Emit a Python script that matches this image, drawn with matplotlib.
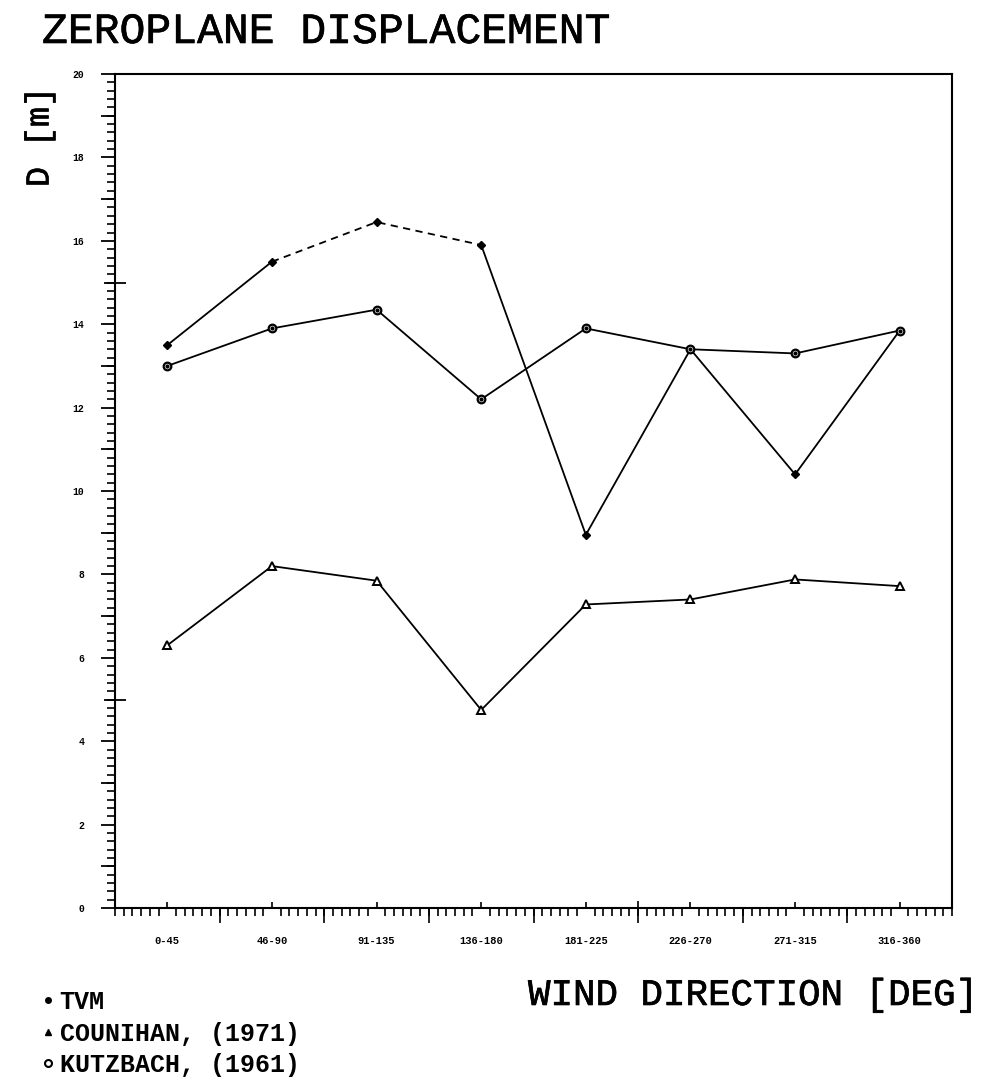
import numpy as np
import matplotlib
matplotlib.use('Agg')
import matplotlib.pyplot as plt
import matplotlib.patheffects as pe
from matplotlib.lines import Line2D
from matplotlib.ticker import MultipleLocator, FixedLocator

# wind direction sectors
sectors = ['0-45', '46-90', '91-135', '136-180', '181-225', '226-270', '271-315', '316-360']

# zeroplane displacement D [m] per sector
tvm = [13.5, 15.5, 16.45, 15.9, 8.95, 13.4, 10.4, 13.85]
counihan = [6.3, 8.2, 7.85, 4.75, 7.28, 7.4, 7.88, 7.72]
kutzbach = [13.0, 13.9, 14.35, 12.2, 13.9, 13.4, 13.3, 13.85]

mono = 'Liberation Mono'
heavy = [pe.withStroke(linewidth=0.45, foreground='black')]

x = np.arange(len(sectors))

fig = plt.figure(figsize=(9.82, 10.81), dpi=100)
ax = fig.add_axes([0.1171, 0.1600, 0.8524, 0.7715])

lw = 1.3
# TVM: solid, with the 46-90 .. 136-180 stretch dashed
ax.plot(x[:2], tvm[:2], color='black', lw=lw)
ax.plot(x[1:4], tvm[1:4], color='black', lw=lw, ls=(0, (4, 3)))
ax.plot(x[3:], tvm[3:], color='black', lw=lw)
ax.plot(x, tvm, ls='none', marker='D', ms=4, color='black')

ax.plot(x, counihan, color='black', lw=lw, marker='^', ms=5.5,
        mfc='white', mec='black', mew=1.4)

ax.plot(x, kutzbach, color='black', lw=lw, marker='o', ms=5.5,
        mfc='white', mec='black', mew=1.6)
ax.plot(x, kutzbach, ls='none', marker='o', ms=2, color='black')

ax.set_xlim(-0.5, 7.5)
ax.set_ylim(0, 20)

for s in ax.spines.values():
    s.set_linewidth(1.5)

# x ticks: sector centres inward, fine ticks outward
ax.set_xticks(x)
ax.set_xticklabels(sectors)
ax.xaxis.set_minor_locator(MultipleLocator(1 / 12))
ax.tick_params(axis='x', which='major', direction='in', length=4, width=1.2,
               pad=20, labelsize=7.5)
ax.tick_params(axis='x', which='minor', direction='out', length=6, width=1.2)
for lab in ax.get_xticklabels():
    lab.set_family(mono)
    lab.set_fontweight('bold')

# longer ticks on the sector boundaries
xb = ax.secondary_xaxis('bottom')
xb.set_xticks(x[:-1] + 0.5)
xb.tick_params(direction='out', length=11, width=1.2, labelbottom=False)
xb.spines['bottom'].set_visible(False)
xc = ax.secondary_xaxis('bottom')
xc.set_xticks([4.5])
xc.tick_params(direction='in', length=5, width=1.2, labelbottom=False)
xc.spines['bottom'].set_visible(False)

# y ticks
ax.yaxis.set_major_locator(MultipleLocator(2))
ax.yaxis.set_minor_locator(MultipleLocator(0.2))
ax.tick_params(axis='y', which='major', direction='out', length=10, width=1.3,
               pad=12, labelsize=7)
ax.tick_params(axis='y', which='minor', direction='out', length=6, width=1.2)
for lab in ax.get_yticklabels():
    lab.set_family(mono)
    lab.set_fontweight('bold')

yo = ax.secondary_yaxis('left')
yo.yaxis.set_major_locator(FixedLocator([1, 3, 7, 9, 11, 13, 17, 19]))
yo.tick_params(direction='out', length=10, width=1.3, labelleft=False)
yo.spines['left'].set_visible(False)
yi = ax.secondary_yaxis('left')
yi.yaxis.set_major_locator(FixedLocator([5, 15]))
yi.tick_params(direction='inout', length=16, width=1.3, labelleft=False)
yi.spines['left'].set_visible(False)

ax.tick_params(top=False, right=False)

fig.text(42 / 982, 1 - 32 / 1081, 'ZEROPLANE DISPLACEMENT', family=mono,
         fontsize=31, va='center', ha='left', path_effects=heavy)
fig.text(40 / 982, 1 - 137 / 1081, 'D [m]', family=mono, fontsize=24,
         rotation=90, va='center', ha='center', path_effects=heavy)
fig.text(978 / 982, 1 - 995 / 1081, 'WIND DIRECTION [DEG]', family=mono,
         fontsize=27, va='center', ha='right', path_effects=heavy)

handles = [
    Line2D([], [], ls='none', marker='o', ms=4, color='black'),
    Line2D([], [], ls='none', marker='^', ms=4, color='black'),
    Line2D([], [], ls='none', marker='o', ms=5, mfc='white', mec='black', mew=1.5),
]
labels = ['TVM', 'COUNIHAN, (1971)', 'KUTZBACH, (1961)']
fig.legend(handles, labels, loc='upper left', bbox_to_anchor=(32 / 982, 1 - 980 / 1081),
           frameon=False, handlelength=0.5, handletextpad=0.2, labelspacing=0.3,
           borderaxespad=0, prop={'family': mono, 'weight': 'bold', 'size': 18})

fig.savefig('out.png', dpi=100)
